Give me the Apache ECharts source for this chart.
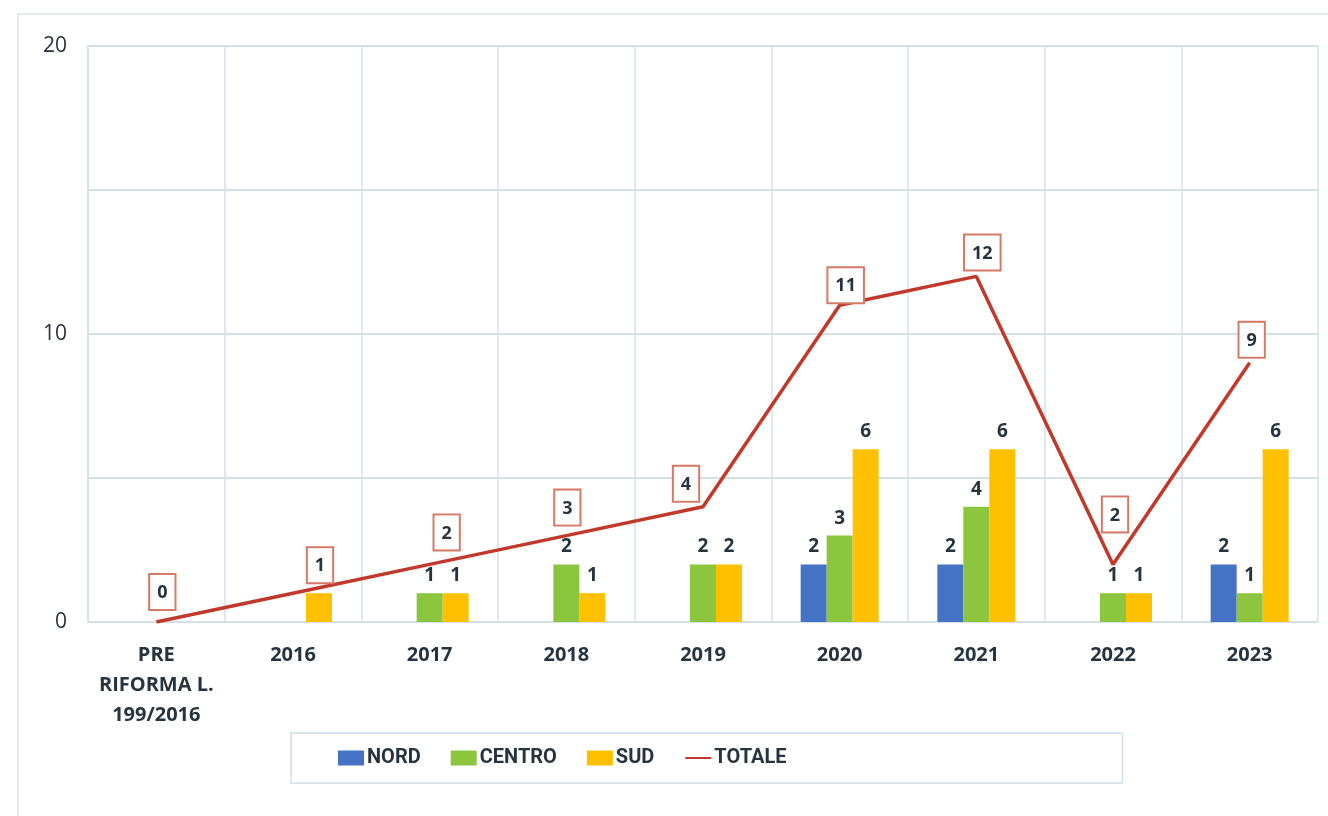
<!DOCTYPE html>
<html lang="it">
<head>
  <meta charset="UTF-8">
  <title>Grafico</title>
  <script src="https://cdn.jsdelivr.net/npm/echarts@6/dist/echarts.min.js"></script>
  <style>
    html, body { margin: 0; padding: 0; background: #fff; }
    #main { width: 1328px; height: 816px; }
  </style>
</head>
<body>
<div id="main"></div>
<script type="text/javascript">
  // categorie e valori
  var categories = ['PRE\nRIFORMA L.\n199/2016', '2016', '2017', '2018', '2019', '2020', '2021', '2022', '2023'];
  var nord   = [0, 0, 0, 0, 0, 2, 2, 0, 2];
  var centro = [0, 0, 1, 2, 2, 3, 4, 1, 1];
  var sud    = [0, 1, 1, 1, 2, 6, 6, 1, 6];
  var totale = [0, 1, 2, 3, 4, 11, 12, 2, 9];
  var yTicks = [0, 10, 20];

  // spostamento delle etichette del totale (come nell'originale)
  var totLabelNudge = [[6, -3], [27, -1], [17, -5], [1, -1], [-17, 4], [6, 7], [6, 3], [2, -23], [2, 4]];

  var gridColor = '#d3e0e8';
  var txt = '#26343f';
  var font = 'Open Sans';

  var myChart = echarts.init(document.getElementById('main'));

  function barLabel() {
    return {
      show: true,
      position: 'top',
      distance: 8,
      color: txt,
      fontWeight: 'bold',
      fontSize: 19,
      fontFamily: font,
      formatter: function (p) { return p.value === 0 ? '' : p.value; }
    };
  }

  var option = {
    backgroundColor: '#fff',
    animation: false,
    graphic: [{
      type: 'rect',
      shape: { x: 18, y: 14, width: 1320, height: 820 },
      style: { fill: 'none', stroke: '#dfe6ea', lineWidth: 1.5 },
      z: -1
    }],
    grid: { left: 88, right: 10, top: 46, bottom: 194 },
    legend: {
      left: 291,
      top: 733,
      padding: [15, 336, 15, 47],
      itemGap: 30,
      itemWidth: 26,
      itemHeight: 15,
      borderColor: '#cfe0ea',
      borderWidth: 1.5,
      textStyle: { color: txt, fontWeight: 'bold', fontSize: 20, fontFamily: 'Roboto', padding: [0, 0, 0, -2] },
      data: [
        { name: 'NORD', icon: 'rect' },
        { name: 'CENTRO', icon: 'rect' },
        { name: 'SUD', icon: 'rect' },
        { name: 'TOTALE', itemStyle: { opacity: 0 } }
      ]
    },
    xAxis: {
      type: 'category',
      data: categories,
      boundaryGap: true,
      axisLine: { show: true, lineStyle: { color: gridColor, width: 1.5 } },
      axisTick: { show: false },
      splitLine: { show: true, lineStyle: { color: gridColor, width: 1.5 } },
      axisLabel: {
        interval: 0,
        margin: 18,
        color: txt,
        fontWeight: 'bold',
        fontSize: 20,
        lineHeight: 30,
        fontFamily: font
      }
    },
    yAxis: {
      type: 'value',
      min: 0,
      max: 20,
      interval: 5,
      axisLine: { show: true, lineStyle: { color: gridColor, width: 1.5 } },
      axisTick: { show: false },
      splitLine: { show: true, lineStyle: { color: '#c5d6e0', width: 1.5 } },
      axisLabel: {
        margin: 21,
        color: txt,
        fontSize: 21,
        fontFamily: font,
        formatter: function (v) { return yTicks.indexOf(v) >= 0 ? v : ''; }
      }
    },
    series: [
      {
        name: 'NORD', type: 'bar', data: nord,
        barWidth: 26, barGap: '0%',
        itemStyle: { color: '#4472c4' },
        label: barLabel()
      },
      {
        name: 'CENTRO', type: 'bar', data: centro,
        barWidth: 26, barGap: '0%',
        itemStyle: { color: '#8cc63f' },
        label: barLabel()
      },
      {
        name: 'SUD', type: 'bar', data: sud,
        barWidth: 26, barGap: '0%',
        itemStyle: { color: '#ffc000' },
        label: barLabel()
      },
      {
        name: 'TOTALE', type: 'line', data: totale,
        symbol: 'circle',
        symbolSize: 0,
        showSymbol: true,
        z: 5,
        lineStyle: { color: '#c0392b', width: 3.5 },
        itemStyle: { color: '#c0392b' },
        labelLayout: function (p) {
          var n = totLabelNudge[p.dataIndex] || [0, 0];
          return { dx: n[0], dy: n[1], hideOverlap: false };
        },
        label: {
          show: true,
          position: 'top',
          distance: 10,
          color: txt,
          fontWeight: 'bold',
          fontSize: 18,
          fontFamily: font,
          backgroundColor: '#fff',
          borderColor: '#d47a66',
          borderWidth: 2,
          padding: [9, 7, 7, 7]
        }
      }
    ]
  };

  myChart.setOption(option);
</script>
</body>
</html>
